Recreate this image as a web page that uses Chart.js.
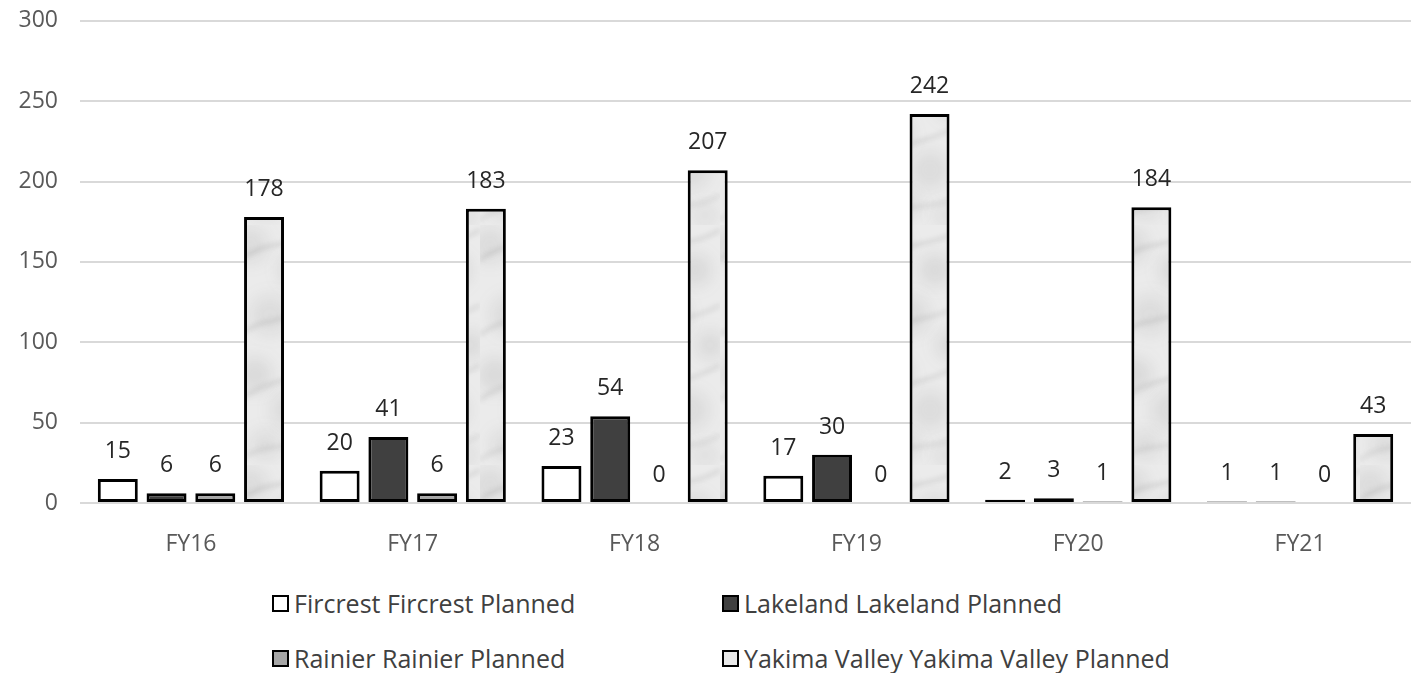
<!DOCTYPE html>
<html>
<head>
<meta charset="utf-8">
<script src="https://cdn.jsdelivr.net/npm/chart.js@4/dist/chart.umd.min.js"></script>
<style>
  html, body { margin: 0; padding: 0; background: #fff; overflow: hidden; }
  #wrap { position: relative; width: 1418px; height: 673px; overflow: hidden; }
  #chart { position: absolute; left: 0; top: -15px; }
  .legend { position: absolute; font-family: "Open Sans", sans-serif; font-size: 25px; color: #404040;
            display: flex; align-items: center; white-space: nowrap; }
  .legend .box { width: 13px; height: 13px; border: 2px solid #000; margin-right: 5px; box-sizing: content-box; }
</style>
</head>
<body>
<div id="wrap">
  <canvas id="chart" width="1418" height="585"></canvas>
  <div id="legend"></div>
</div>
<script>
// Fiscal years on the x axis
const categories = ["FY16", "FY17", "FY18", "FY19", "FY20", "FY21"];

// Planned counts per facility
const fircrest = [15, 20, 23, 17, 2, 1];
const lakeland = [6, 41, 54, 30, 3, 1];
const rainier = [6, 6, 0, 0, 1, 0];
const yakima = [178, 183, 207, 242, 184, 43];

const seriesNames = [
  "Fircrest Fircrest Planned",
  "Lakeland Lakeland Planned",
  "Rainier Rainier Planned",
  "Yakima Valley Yakima Valley Planned"
];

// Y axis range
const yMin = 0, yMax = 300, yStep = 50;

// Soft grey marble texture for the Yakima Valley bars
function marblePattern() {
  const c = document.createElement('canvas');
  c.width = 80; c.height = 240;
  const g = c.getContext('2d');
  g.fillStyle = '#ebebeb';
  g.fillRect(0, 0, c.width, c.height);
  g.filter = 'blur(8px)';
  const blots = [
    [10, 20, 18, 0.11], [55, 45, 16, 0.13], [30, 90, 20, 0.10], [70, 120, 14, 0.12],
    [15, 150, 17, 0.13], [50, 185, 19, 0.11], [25, 220, 15, 0.10], [65, 230, 12, 0.09]
  ];
  blots.forEach(([x, y, r, a]) => {
    g.fillStyle = 'rgba(100,100,100,' + a + ')';
    g.beginPath(); g.arc(x, y, r, 0, Math.PI * 2); g.fill();
  });
  g.filter = 'blur(2.5px)';
  const veins = [
    [0, 35, 80, 5, 0.18], [0, 110, 80, 80, 0.16], [0, 175, 80, 140, 0.17], [0, 235, 80, 210, 0.14]
  ];
  veins.forEach(([x1, y1, x2, y2, a]) => {
    g.strokeStyle = 'rgba(90,90,90,' + a + ')';
    g.lineWidth = 3;
    g.beginPath();
    g.moveTo(x1, y1);
    g.bezierCurveTo(x1 + 25, y1 - 20, x2 - 30, y2 + 18, x2, y2);
    g.stroke();
  });
  const ctx = document.getElementById('chart').getContext('2d');
  return ctx.createPattern(c, 'repeat');
}

const fills = ['#ffffff', '#404040', '#a6a6a6', marblePattern()];
const legendFills = ['#ffffff', '#404040', '#a6a6a6', '#e9e9e9'];
const seriesValues = [fircrest, lakeland, rainier, yakima];

// Value labels above each bar
const valueLabels = {
  id: 'valueLabels',
  afterDatasetsDraw(chart) {
    const ctx = chart.ctx;
    ctx.save();
    ctx.font = '23px "Open Sans", sans-serif';
    ctx.fillStyle = '#262626';
    ctx.textAlign = 'center';
    ctx.textBaseline = 'alphabetic';
    chart.data.datasets.forEach((ds, i) => {
      chart.getDatasetMeta(i).data.forEach((bar, j) => {
        ctx.fillText(String(ds.data[j]), bar.x, bar.y - 21);
      });
    });
    ctx.restore();
  }
};

const chart = new Chart(document.getElementById('chart'), {
  type: 'bar',
  data: {
    labels: categories,
    datasets: seriesValues.map((vals, i) => ({
      label: seriesNames[i],
      data: vals,
      backgroundColor: fills[i],
      borderColor: '#000000',
      borderWidth: 3,
      borderSkipped: false,
      categoryPercentage: 0.879,
      barPercentage: 0.82
    }))
  },
  options: {
    responsive: false,
    animation: false,
    layout: { padding: { top: 8, right: 7, bottom: 7, left: 0 } },
    plugins: { legend: { display: false }, tooltip: { enabled: false } },
    scales: {
      x: {
        grid: { display: false, drawTicks: false },
        border: { display: false },
        ticks: { color: '#595959', font: { family: 'Open Sans', size: 23 }, padding: 28 },
        afterFit(scale) { scale.height = 60; }
      },
      y: {
        min: yMin, max: yMax,
        ticks: { stepSize: yStep, color: '#595959', font: { family: 'Open Sans', size: 23 }, padding: 22 },
        grid: { color: '#d9d9d9', lineWidth: 2, drawTicks: false },
        border: { display: false },
        afterFit(scale) { scale.width = 80; }
      }
    }
  },
  plugins: [valueLabels]
});

// Two-column legend below the plot
const legendPos = [[272, 603], [722, 603], [272, 658], [722, 658]];
const legendEl = document.getElementById('legend');
seriesNames.forEach((name, i) => {
  const item = document.createElement('div');
  item.className = 'legend';
  item.style.left = legendPos[i][0] + 'px';
  item.style.top = (legendPos[i][1] - 16) + 'px';
  item.style.height = '32px';
  const box = document.createElement('span');
  box.className = 'box';
  box.style.background = legendFills[i];
  const txt = document.createElement('span');
  txt.textContent = name;
  item.appendChild(box);
  item.appendChild(txt);
  legendEl.appendChild(item);
});
</script>
</body>
</html>
